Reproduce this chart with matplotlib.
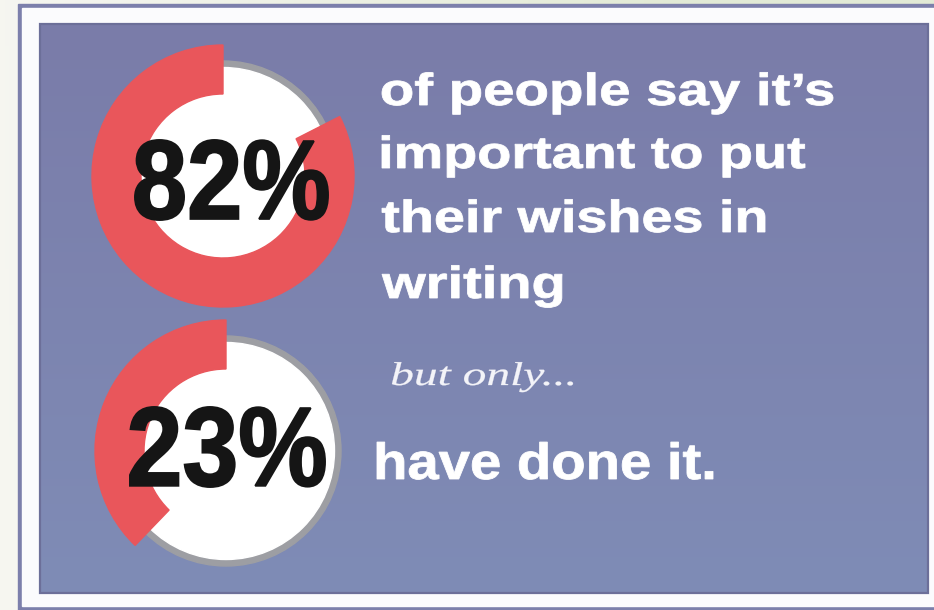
import matplotlib
matplotlib.use("Agg")
import matplotlib.pyplot as plt
from matplotlib.patches import Rectangle, Circle, Wedge, PathPatch
from matplotlib.textpath import TextPath
from matplotlib.font_manager import FontProperties
from matplotlib.transforms import Affine2D
import numpy as np

W, H = 934, 610

# ── data ──────────────────────────────────────────────────────────────────────
pct_values = [82, 23]
pct_labels = [f"{v}%" for v in pct_values]
# arc length as drawn in the graphic (the lower ring is drawn longer than its label)
arc_shares = [82.5, 37.8]
statement_lines = ["of people say it\u2019s", "important to put", "their wishes in", "writing"]
connector = "but only..."
closing = "have done it."

RED = "#e9565b"
RING = "#9d9ea3"
PANEL_TOP = "#7a7ca9"
PANEL_BOT = "#7f8cb6"
INK = "#151515"

fig = plt.figure(figsize=(W / 100, H / 100), dpi=100)
fig.patch.set_facecolor("#f6f6f1")
ax = fig.add_axes([0, 0, 1, 1])
ax.axis("off")


def Y(y):
    return H - y


SANS_B = FontProperties(family="Liberation Sans", weight="bold")
SERIF_I = FontProperties(family="Liberation Serif", style="italic")


def line_text(s, x0, x1, base, em, color, prop, lw=0.0):
    # text scaled to em height, stretched to span x0..x1, sitting on baseline
    tp = TextPath((0, 0), s, size=1, prop=prop)
    e = tp.get_extents()
    tr = Affine2D().translate(-e.x0, 0).scale((x1 - x0) / e.width, em).translate(x0, Y(base))
    ax.add_patch(PathPatch(tr.transform_path(tp), facecolor=color,
                           edgecolor=color, linewidth=lw, zorder=6))


def box_text(s, x0, x1, top, bottom, color, prop, lw=0.0):
    # text fitted into a box
    tp = TextPath((0, 0), s, size=1, prop=prop)
    e = tp.get_extents()
    tr = (Affine2D().translate(-e.x0, -e.y0)
          .scale((x1 - x0) / e.width, (bottom - top) / e.height)
          .translate(x0, Y(bottom)))
    ax.add_patch(PathPatch(tr.transform_path(tp), facecolor=color,
                           edgecolor=color, linewidth=lw, zorder=6))


# ── page background: cream with a faint green tint top-right ─────────────────
gx = np.linspace(0, 1, 200)[None, :]
gy = np.linspace(1, 0, 120)[:, None]
t = np.clip(gx * gy * 1.4, 0, 1)[..., None]
bg = (1 - t) * np.array([0.965, 0.965, 0.945]) + t * np.array([0.89, 0.92, 0.84])
ax.imshow(bg, extent=[0, W, 0, H], aspect="auto", zorder=0)

# ── frame ─────────────────────────────────────────────────────────────────────
ax.add_patch(Rectangle((18, Y(610)), W, 606, color="#7c7fab", zorder=1))
ax.add_patch(Rectangle((22, Y(606)), W, 598, color="#fbfbfd", zorder=1))

# panel with vertical gradient
c0 = np.array(matplotlib.colors.to_rgb(PANEL_TOP))
c1 = np.array(matplotlib.colors.to_rgb(PANEL_BOT))
k = np.linspace(0, 1, 256)[:, None, None]
grad = (1 - k) * c0 + k * c1
ax.imshow(grad, extent=[40, 928, Y(593), Y(24)], aspect="auto", zorder=2)
ax.add_patch(Rectangle((40, Y(593)), 888, 569, fill=False,
                       edgecolor="#6c6f99", linewidth=1.6, zorder=3))

# ── donuts ────────────────────────────────────────────────────────────────────
centers = [(223, 176), (226, 451)]
boxes = [(135, 328, 140, 220), (130, 325, 407, 487)]
for (cx, cy), share, label, (bx0, bx1, bt, bb) in zip(centers, arc_shares, pct_labels, boxes):
    c = (cx, Y(cy))
    ax.add_patch(Circle(c, 115, color=RING, zorder=4))
    ax.add_patch(Circle(c, 108.5, color="white", zorder=4))
    ax.add_patch(Wedge(c, 131, 90, 90 + share * 3.6, width=49, color=RED, zorder=5))
    box_text(label, bx0, bx1, bt, bb, INK, SANS_B, lw=1.4)

# ── statement text ────────────────────────────────────────────────────────────
line_spans = [(382, 833, 105), (382, 805, 168), (382, 765, 232), (382, 562, 298)]
for s, (x0, x1, base) in zip(statement_lines, line_spans):
    line_text(s, x0, x1, base, 45, "white", SANS_B, lw=0.6)

line_text(connector, 392, 573, 385, 33, "#f3f3f8", SERIF_I, lw=0.2)
line_text(closing, 377, 713, 479, 51, "white", SANS_B, lw=0.6)

ax.set_xlim(0, W)
ax.set_ylim(0, H)
fig.savefig("out.png", dpi=100, facecolor=fig.get_facecolor())
